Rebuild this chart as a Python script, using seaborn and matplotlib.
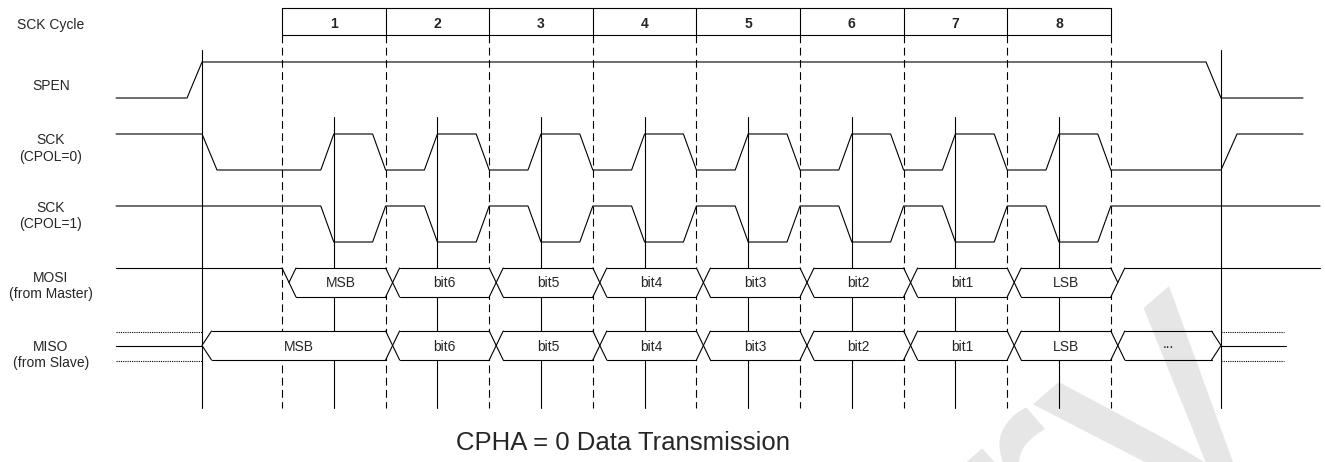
import numpy as np
import pandas as pd
import matplotlib
matplotlib.use('Agg')
import matplotlib.pyplot as plt
import seaborn as sns

# 数据：SPI 时序图（CPHA = 0）
cycles = [1, 2, 3, 4, 5, 6, 7, 8]
lane_labels = ['SCK Cycle', 'SPEN', 'SCK\n(CPOL=0)', 'SCK\n(CPOL=1)',
               'MOSI\n(from Master)', 'MISO\n(from Slave)']
mosi_bits = ['MSB', 'bit6', 'bit5', 'bit4', 'bit3', 'bit2', 'bit1', 'LSB']
miso_bits = ['MSB', 'bit6', 'bit5', 'bit4', 'bit3', 'bit2', 'bit1', 'LSB']
miso_tail = '...'
cpol_list = [0, 1]
spen_on = -0.772    # SPEN 拉高时刻（单位：SCK 周期）
spen_off = 9.064    # SPEN 拉低时刻
title = 'CPHA = 0 Data Transmission'
watermark = 'Preliminary'

# 版面：像素 -> 周期坐标
PX0, PXW = 282, 103.6
def px(x):
    return (x - PX0) / PXW

t_begin = px(116)
e_clk = 13 / PXW     # SCK 边沿
e_dat = 14 / PXW     # 数据交叉
e_cs = 15 / PXW      # SPEN 边沿
e_half = 9.5 / PXW   # MISO 开合

# 各通道纵向位置（像素行）
box_top, box_bot = 8, 35
spen_hi, spen_lo = 62, 98
sck_lanes = [(134, 170, px(1303)), (206, 242, px(1320))]
mosi_top, mosi_bot = 268, 297
miso_top, miso_bot = 331, 360
guide_bot = 408

segs = []
def add(style, pts, layer='wave'):
    segs.append((style, layer, pts))

def wave(t0, t1, level0, changes, lo, hi):
    lv = {0: lo, 1: hi}
    pts = [(t0, lv[level0])]
    cur = level0
    for ta, tb, new in changes:
        pts.append((ta, lv[cur]))
        pts.append((tb, lv[new]))
        cur = new
    pts.append((t1, lv[cur]))
    return pts

# SCK Cycle 方框
add('solid', [(0, box_top), (len(cycles), box_top)])
add('solid', [(0, box_bot), (len(cycles), box_bot)])
for k in range(len(cycles) + 1):
    add('solid', [(k, box_top), (k, box_bot)])
    add('dashed', [(k, box_bot), (k, guide_bot)], 'guide')

# 竖直参考线
for t in [spen_on, spen_off]:
    add('solid', [(t, 50), (t, guide_bot)], 'guide')
for k in range(len(cycles)):
    add('solid', [(k + 0.5, 117), (k + 0.5, guide_bot)], 'guide')

# SPEN
add('solid', wave(t_begin, px(1303), 0,
                  [(spen_on - e_cs, spen_on, 1), (spen_off - e_cs, spen_off, 0)],
                  spen_lo, spen_hi))

# SCK
for cpol, (hi, lo, t_end) in zip(cpol_list, sck_lanes):
    ch = []
    if cpol == 0:
        ch.append((spen_on, spen_on + e_cs, 0))
    for k in range(len(cycles)):
        ch.append((k + 0.5 - e_clk, k + 0.5, 1 - cpol))
        ch.append((k + 1 - e_clk, k + 1, cpol))
    if cpol == 0:
        ch.append((spen_off, spen_off + 16 / PXW, 1))
    add('solid', wave(t_begin, t_end, 1, ch, lo, hi))

boxes = []  # 白色填充的数据框 (a, b, 左半宽, 右半宽, top, bot)

# MOSI
n = len(mosi_bits)
mid = (mosi_top + mosi_bot) / 2
add('solid', [(t_begin, mosi_top), (0, mosi_top)])
add('solid', [(0, mosi_top), (e_dat, mosi_bot)])
add('solid', [(e_dat / 2, mid), (e_dat, mosi_top)])
for i in range(n):
    add('solid', [(i + e_dat, mosi_top), (i + 1, mosi_top)])
    add('solid', [(i + e_dat, mosi_bot), (i + 1, mosi_bot)])
    boxes.append((i + e_dat, i + 1, e_dat / 2, e_dat / 2, mosi_top, mosi_bot))
for j in range(1, n):
    add('solid', [(j, mosi_top), (j + e_dat, mosi_bot)])
    add('solid', [(j, mosi_bot), (j + e_dat, mosi_top)])
add('solid', [(n, mosi_bot), (n + e_dat, mosi_top)])
add('solid', [(n, mosi_top), (n + e_dat / 2, mid)])
add('solid', [(n + e_dat, mosi_top), (px(1320), mosi_top)])

# MISO
mmid = (miso_top + miso_bot) / 2
add('solid', [(t_begin, mmid), (spen_on, mmid)])
add('dotted', [(t_begin, miso_top + 1), (spen_on, miso_top + 1)])
add('dotted', [(t_begin, miso_bot + 1), (spen_on, miso_bot + 1)])
add('solid', [(spen_on + e_half, miso_top), (spen_on, mmid), (spen_on + e_half, miso_bot)])
starts = [spen_on + e_half] + [i + e_dat for i in range(1, n)] + [n + e_dat]
ends = [i + 1 for i in range(n)] + [spen_off - e_half]
for idx, (a, b) in enumerate(zip(starts, ends)):
    add('solid', [(a, miso_top), (b, miso_top)])
    add('solid', [(a, miso_bot), (b, miso_bot)])
    hl = e_half if idx == 0 else e_dat / 2
    hr = e_half if idx == len(starts) - 1 else e_dat / 2
    boxes.append((a, b, hl, hr, miso_top, miso_bot))
for j in range(1, n + 1):
    add('solid', [(j, miso_top), (j + e_dat, miso_bot)])
    add('solid', [(j, miso_bot), (j + e_dat, miso_top)])
add('solid', [(spen_off - e_half, miso_top), (spen_off, mmid), (spen_off - e_half, miso_bot)])
add('solid', [(spen_off, mmid), (px(1286), mmid)])
add('dotted', [(spen_off, miso_top + 1), (px(1284), miso_top + 1)])
add('dotted', [(spen_off, miso_bot + 1), (px(1284), miso_bot + 1)])

rows = []
for sid, (style, layer, pts) in enumerate(segs):
    for order, (t, y) in enumerate(pts):
        rows.append({'seg': sid, 'order': order, 't': t, 'y': y,
                     'style': style, 'layer': layer})
df = pd.DataFrame(rows)

sns.set_theme(style='white')
plt.rcParams['font.family'] = ['Liberation Sans', 'DejaVu Sans']

fig = plt.figure(figsize=(13.25, 4.62), dpi=100)
ax = fig.add_axes([0, 0, 1, 1])

line_styles = {'solid': '-', 'dashed': (0, (7, 4)), 'dotted': (0, (1, 1))}
layer_z = {'guide': 1, 'wave': 3}
for (layer, style), sub in df.groupby(['layer', 'style']):
    sns.lineplot(data=sub, x='t', y='y', units='seg', estimator=None, sort=False,
                 color='black', linewidth=0.8, linestyle=line_styles[style],
                 ax=ax, legend=False, zorder=layer_z[layer])

# 数据框白色填充，遮住参考线
for a, b, hl, hr, top, bot in boxes:
    m = (top + bot) / 2
    ax.fill([a - hl, a, b, b + hr, b, a], [m, top, top, m, bot, bot],
            color='white', zorder=2, lw=0)

# 文本
label_y = [25.5, 86, 148.5, 216, 286, 355]
for lab, y in zip(lane_labels, label_y):
    ax.text(px(51), y, lab, ha='center', va='center', fontsize=10, linespacing=1.2)
for k, c in enumerate(cycles):
    ax.text(k + 0.5, 24.5, str(c), ha='center', va='center', fontsize=10, fontweight='bold')
for i, b in enumerate(mosi_bits):
    ax.text(i + 0.5 + e_dat / 2, mid + 0.5, b, ha='center', va='center', fontsize=10, zorder=4)
for i, b in enumerate(miso_bits):
    x = (starts[i] + ends[i]) / 2
    ax.text(x, mmid + 1.5, b, ha='center', va='center', fontsize=10, zorder=4)
ax.text((starts[-1] + ends[-1]) / 2, mmid - 1, miso_tail, ha='center', va='center',
        fontsize=10, zorder=4)
ax.text(px(623), 443, title, ha='center', va='center', fontsize=18.5)

# 水印（半透明叠加）
ax.text(px(1289), 410, watermark, rotation=41, rotation_mode='anchor',
        ha='right', va='baseline', fontsize=262, color='black', alpha=0.1, zorder=5)

ax.set_xlim(px(0), px(1325))
ax.set_ylim(462, 0)
ax.axis('off')
fig.savefig('out.png', dpi=100)
